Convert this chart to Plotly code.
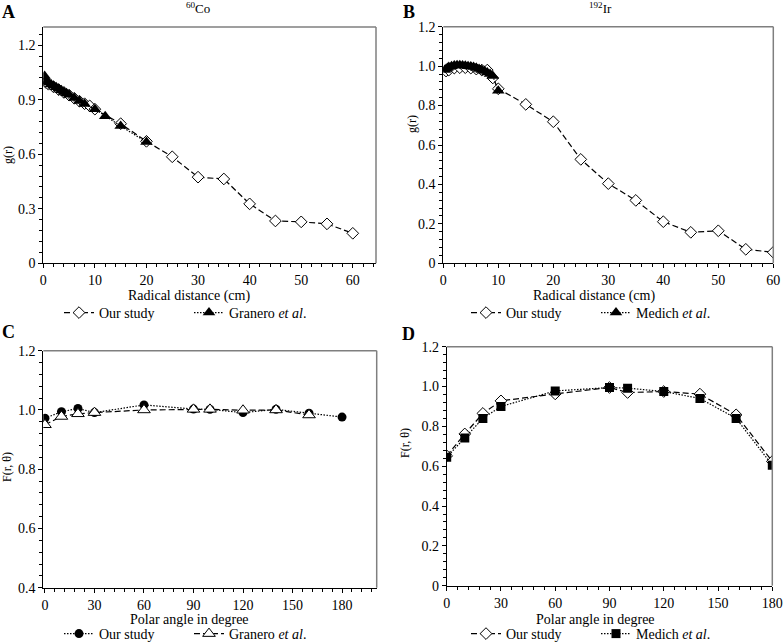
import plotly.graph_objects as go

# ---------------- data ----------------
# Panel A: 60Co radial dose function
co_our_r = [0.5, 1, 2, 3, 4, 5, 6, 7, 8, 9, 10, 15, 20, 25, 30, 35, 40, 45, 50, 55, 60]
co_our_g = [0.995, 0.985, 0.97, 0.955, 0.94, 0.925, 0.908, 0.892, 0.878, 0.866, 0.848,
            0.768, 0.671, 0.586, 0.474, 0.464, 0.327, 0.233, 0.228, 0.217, 0.165]
co_gra_r = [0.25, 0.5, 0.75, 1, 1.5, 2, 2.5, 3, 3.5, 4, 4.5, 5, 6, 7, 8, 10, 12, 15, 20]
co_gra_g = [1.03, 1.005, 1.0, 0.995, 0.985, 0.977, 0.968, 0.96, 0.952, 0.943, 0.935,
            0.927, 0.91, 0.893, 0.876, 0.848, 0.809, 0.755, 0.667]

# Panel B: 192Ir radial dose function
ir_our_r = [0.5, 1, 2, 3, 4, 5, 6, 7, 8, 9, 10, 15, 20, 25, 30, 35, 40, 45, 50, 55, 60]
ir_our_g = [0.975, 0.98, 0.99, 0.992, 0.992, 0.99, 0.985, 0.98, 0.98, 0.94, 0.885,
            0.806, 0.718, 0.527, 0.404, 0.319, 0.211, 0.157, 0.165, 0.071, 0.056]
ir_med_r = [0.25, 0.5, 0.75, 1, 1.5, 2, 2.5, 3, 3.5, 4, 4.5, 5, 5.5, 6, 6.5, 7, 7.5, 8, 8.5, 9, 10]
ir_med_g = [0.98, 0.985, 0.99, 0.995, 1.0, 1.003, 1.004, 1.004, 1.003, 1.002, 1.0,
            0.998, 0.995, 0.99, 0.985, 0.98, 0.975, 0.968, 0.96, 0.95, 0.875]

# Panel C: 60Co anisotropy function
co_ang_our = [0, 10, 20, 30, 60, 90, 100, 120, 140, 160, 180]
co_F_our = [0.972, 0.994, 1.005, 0.991, 1.017, 1.003, 1.002, 0.991, 1.002, 0.989, 0.976]
co_ang_gra = [0, 10, 20, 30, 60, 90, 100, 120, 140, 160]
co_F_gra = [0.95, 0.978, 0.987, 0.991, 1.0, 1.002, 1.002, 0.999, 1.0, 0.983]

# Panel D: 192Ir anisotropy function
ir_ang = [0, 10, 20, 30, 60, 90, 100, 120, 140, 160, 180]
ir_F_our = [0.652, 0.762, 0.865, 0.928, 0.963, 0.995, 0.97, 0.975, 0.962, 0.858, 0.624]
ir_F_med = [0.645, 0.742, 0.84, 0.9, 0.978, 0.995, 0.992, 0.975, 0.94, 0.84, 0.605]

# tick labels
g_ticks_A = [0, 0.3, 0.6, 0.9, 1.2]
g_text_A = ["0", "0.3", "0.6", "0.9", "1.2"]
g_ticks_B = [0, 0.2, 0.4, 0.6, 0.8, 1.0, 1.2]
g_text_B = ["0", "0.2", "0.4", "0.6", "0.8", "1.0", "1.2"]
F_ticks_C = [0.4, 0.6, 0.8, 1.0, 1.2]
F_text_C = ["0.4", "0.6", "0.8", "1.0", "1.2"]
F_ticks_D = [0, 0.2, 0.4, 0.6, 0.8, 1.0, 1.2]
F_text_D = ["0", "0.2", "0.4", "0.6", "0.8", "1.0", "1.2"]

FONT = "Liberation Serif, Times New Roman, serif"
W, H = 783, 643


def px(x):
    return x / W


def py(y):
    return 1 - y / H


DASH = "6px,3px"
DOT = "1.5px,1.5px"

open_diamond = dict(symbol="diamond", size=9, color="white", line=dict(color="black", width=1))
filled_tri = dict(symbol="triangle-up", size=11, color="black", line=dict(color="black", width=0))
open_tri = dict(symbol="triangle-up", size=11, color="white", line=dict(color="black", width=1))
filled_circ = dict(symbol="circle", size=9, color="black")
filled_sq = dict(symbol="square", size=9, color="black")

fig = go.Figure()

# Panel A
fig.add_trace(go.Scatter(x=co_our_r, y=co_our_g, mode="lines+markers", name="Our study",
                         line=dict(color="black", width=1.2, dash=DASH), marker=open_diamond,
                         xaxis="x", yaxis="y", legend="legend"))
fig.add_trace(go.Scatter(x=co_gra_r, y=co_gra_g, mode="lines+markers", name="Granero <i>et al</i>.",
                         line=dict(color="black", width=1.2, dash=DOT), marker=filled_tri,
                         xaxis="x", yaxis="y", legend="legend"))
# Panel B
fig.add_trace(go.Scatter(x=ir_our_r, y=ir_our_g, mode="lines+markers", name="Our study",
                         line=dict(color="black", width=1.2, dash=DASH), marker=open_diamond,
                         xaxis="x2", yaxis="y2", legend="legend2"))
fig.add_trace(go.Scatter(x=ir_med_r, y=ir_med_g, mode="lines+markers", name="Medich <i>et al</i>.",
                         line=dict(color="black", width=1.2, dash=DOT), marker=filled_tri,
                         xaxis="x2", yaxis="y2", legend="legend2"))
# Panel C
fig.add_trace(go.Scatter(x=co_ang_our, y=co_F_our, mode="lines+markers", name="Our study",
                         line=dict(color="black", width=1.2, dash=DOT), marker=filled_circ,
                         xaxis="x3", yaxis="y3", legend="legend3"))
fig.add_trace(go.Scatter(x=co_ang_gra, y=co_F_gra, mode="lines+markers", name="Granero <i>et al</i>.",
                         line=dict(color="black", width=1.2, dash=DASH), marker=open_tri,
                         xaxis="x3", yaxis="y3", legend="legend3"))
# Panel D
fig.add_trace(go.Scatter(x=ir_ang, y=ir_F_our, mode="lines+markers", name="Our study",
                         line=dict(color="black", width=1.2, dash=DASH), marker=open_diamond,
                         xaxis="x4", yaxis="y4", legend="legend4"))
fig.add_trace(go.Scatter(x=ir_ang, y=ir_F_med, mode="lines+markers", name="Medich <i>et al</i>.",
                         line=dict(color="black", width=1.2, dash=DOT), marker=filled_sq,
                         xaxis="x4", yaxis="y4", legend="legend4"))

tickfont = dict(family=FONT, size=14, color="black")


def xax(domain, rng, dtick, minor, anchor):
    return dict(domain=domain, range=rng, dtick=dtick, tick0=0, anchor=anchor,
                showline=True, linecolor="black", linewidth=1, showgrid=False, zeroline=False,
                ticks="outside", ticklen=4, tickcolor="black", tickfont=tickfont, automargin=False,
                minor=dict(dtick=minor, tick0=0, ticks="outside", ticklen=3, tickcolor="black", showgrid=False))


def yax(domain, rng, tv, tt, minor, anchor):
    return dict(domain=domain, range=rng, tickvals=tv, ticktext=tt, anchor=anchor,
                showline=True, linecolor="black", linewidth=1, showgrid=False, zeroline=False,
                ticks="outside", ticklen=4, tickcolor="black", tickfont=tickfont, automargin=False,
                minor=dict(dtick=minor, tick0=0, ticks="outside", ticklen=3, tickcolor="black", showgrid=False))


dA_x = [px(43.3), px(376)]
dA_y = [py(263.3), py(27)]
dB_x = [px(443.3), px(773.3)]
dB_y = [py(263.3), py(26.7)]
dC_x = [px(43.3), px(376.7)]
dC_y = [py(587.7), py(350.7)]
dD_x = [px(446.7), px(772.3)]
dD_y = [py(585.7), py(346.7)]

shapes = []
for xr, yr in [("x", "y"), ("x2", "y2"), ("x3", "y3"), ("x4", "y4")]:
    shapes.append(dict(type="line", xref=xr + " domain", yref=yr + " domain", x0=0, x1=1, y0=1, y1=1,
                       line=dict(color="#7f7f7f", width=1.5)))
    shapes.append(dict(type="line", xref=xr + " domain", yref=yr + " domain", x0=1, x1=1, y0=0, y1=1,
                       line=dict(color="#7f7f7f", width=1.5)))

ann = []


def text(x, y, s, size=14, bold=False, angle=0):
    ann.append(dict(x=px(x), y=py(y), xref="paper", yref="paper", text=("<b>%s</b>" % s) if bold else s,
                    showarrow=False, xanchor="center", yanchor="middle", textangle=angle,
                    font=dict(family=FONT, size=size, color="black")))


text(8.5, 12, "A", 18, True)
text(408.5, 12, "B", 18, True)
text(8.5, 332, "C", 18, True)
text(408.5, 334, "D", 18, True)
text(198, 8, "<sup>60</sup>Co", 13)
text(600, 8, "<sup>192</sup>Ir", 13)
text(189, 296, "Radical distance (cm)", 14)
text(594, 296, "Radical distance (cm)", 14)
text(189, 619, "Polar angle in degree", 14)
text(595, 619, "Polar angle in degree", 14)
text(8, 155, "g(r)", 12, angle=-90)
text(412, 124, "g(r)", 12, angle=-90)
text(7, 467, "F(r, θ)", 12, angle=-90)
text(405, 443, "F(r, θ)", 12, angle=-90)


def leg(x, y):
    return dict(x=px(x), y=py(y), xref="paper", yref="paper", xanchor="center", yanchor="middle",
                orientation="h", bgcolor="rgba(0,0,0,0)", itemwidth=30, entrywidth=85,
                font=dict(family=FONT, size=14, color="black"), tracegroupgap=0,
                traceorder="normal", itemclick=False)


fig.update_layout(
    width=W, height=H, margin=dict(l=0, r=0, t=0, b=0, autoexpand=False),
    paper_bgcolor="white", plot_bgcolor="white", showlegend=True,
    xaxis=xax(dA_x, [0, 64.5], 10, 2, "y"),
    yaxis=yax(dA_y, [0, 1.3], g_ticks_A, g_text_A, 0.06, "x"),
    xaxis2=xax(dB_x, [0, 60], 10, 2, "y2"),
    yaxis2=yax(dB_y, [0, 1.2], g_ticks_B, g_text_B, 0.04, "x2"),
    xaxis3=xax(dC_x, [-1, 201], 30, 6, "y3"),
    yaxis3=yax(dC_y, [0.4, 1.2], F_ticks_C, F_text_C, 0.04, "x3"),
    xaxis4=xax(dD_x, [0, 180], 30, 6, "y4"),
    yaxis4=yax(dD_y, [0, 1.2], F_ticks_D, F_text_D, 0.04, "x4"),
    legend=leg(189, 313), legend2=leg(596, 313), legend3=leg(189, 634), legend4=leg(596, 634),
    shapes=shapes, annotations=ann,
)

fig.write_html(
    "out.html",
    config={"displayModeBar": False},
    post_script="document.body.style.margin='0';document.body.style.overflow='hidden';",
)
